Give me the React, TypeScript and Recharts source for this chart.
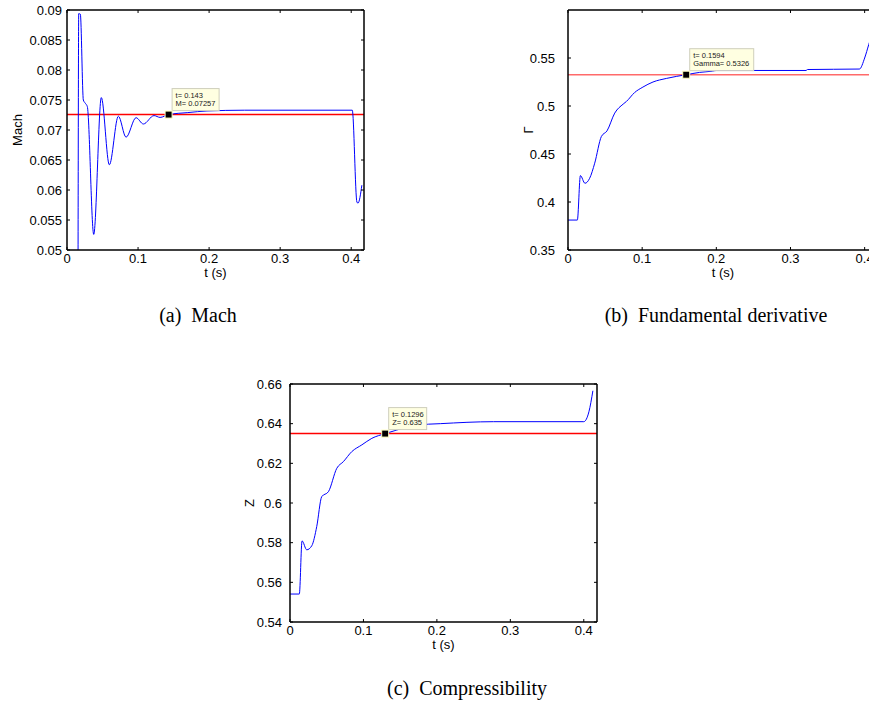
import { LineChart, Line, XAxis, YAxis, ReferenceLine, ReferenceDot } from "recharts";

// time axis shared by the three panels
const tTicks = [0, 0.1, 0.2, 0.3, 0.4];
const tDomain = [0, 0.418];

// (a) Mach
const machT = [0, 0.0145, 0.0165, 0.0188, 0.023, 0.0258, 0.0286, 0.0376, 0.0483, 0.0596, 0.0723, 0.0831, 0.0972, 0.1075, 0.1225, 0.131, 0.143, 0.17, 0.197, 0.25, 0.4015, 0.408, 0.4095, 0.415];
const machV = [0, 0, 0.0894, 0.0893, 0.075, 0.07445, 0.0739, 0.0526, 0.0754, 0.0642, 0.0723, 0.0688, 0.07205, 0.071, 0.0724, 0.0721, 0.07257, 0.0729, 0.07317, 0.0733, 0.0733, 0.058, 0.0578, 0.0608];
const machTicks = [0.05, 0.055, 0.06, 0.065, 0.07, 0.075, 0.08, 0.085, 0.09];

// (b) Fundamental derivative
const gammaT = [0, 0.0126, 0.0167, 0.0229, 0.0292, 0.036, 0.045, 0.0526, 0.063, 0.0744, 0.0787, 0.0899, 0.101, 0.1146, 0.1326, 0.1594, 0.1775, 0.1946, 0.2, 0.321, 0.323, 0.393, 0.4, 0.4055, 0.41, 0.415];
const gammaV = [0.3812, 0.3812, 0.4275, 0.4195, 0.4247, 0.4404, 0.4682, 0.4741, 0.4926, 0.502, 0.5047, 0.5141, 0.5197, 0.525, 0.5287, 0.5326, 0.535, 0.5363, 0.537, 0.537, 0.538, 0.5385, 0.55, 0.5639, 0.575, 0.588];
const gammaTicks = [0.35, 0.4, 0.45, 0.5, 0.55];

// (c) Compressibility
const zT = [0, 0.0127, 0.0164, 0.0228, 0.0296, 0.0364, 0.0432, 0.0523, 0.0637, 0.0728, 0.0841, 0.0978, 0.1114, 0.1296, 0.1455, 0.1728, 0.2046, 0.2773, 0.4, 0.407, 0.4124];
const zV = [0.5541, 0.5541, 0.5809, 0.5764, 0.5784, 0.5881, 0.6032, 0.6057, 0.6175, 0.6209, 0.6259, 0.6293, 0.6326, 0.635, 0.6368, 0.6393, 0.64, 0.641, 0.641, 0.646, 0.6566];
const zTicks = [0.54, 0.56, 0.58, 0.6, 0.62, 0.64, 0.66];

const rows = (ts: number[], vs: number[]) => ts.map((t, i) => ({ t, v: vs[i] }));

const TICK = { fontSize: 13, fill: "#000" };
const AXIS = { stroke: "#000", strokeWidth: 1.5 };
const blank = () => "";

function DataTip(props: any) {
  const { cx, cy, lines, boxW } = props;
  if (cx == null || cy == null) return null;
  return (
    <g>
      <rect x={cx + 3.5} y={cy - 26} width={boxW} height={22} fill="#ffffe1" stroke="#cfcfbc" strokeWidth={1} />
      <text x={cx + 7} y={cy - 17} fontSize={7.5} fill="#222">{lines[0]}</text>
      <text x={cx + 7} y={cy - 8.5} fontSize={7.5} fill="#222">{lines[1]}</text>
      <rect x={cx - 3.5} y={cy - 3.5} width={7} height={7} fill="#000" stroke="#ffffc0" strokeWidth={1} />
    </g>
  );
}

function Panel(props: any) {
  const { left, top, width, height, yWidth, mRight, mBottom, data, yDomain, yTicks, yLabel, yLabelOffset, tickMargin, refY, refColor, tip, tipW, tipLines } = props;
  return (
    <div style={{ position: "absolute", left, top }}>
      <LineChart width={width} height={height} data={data} margin={{ top: 9, right: mRight - 1, bottom: mBottom, left: 0 }}>
        <XAxis dataKey="t" type="number" domain={tDomain} ticks={tTicks} allowDataOverflow height={30}
          tick={TICK} tickSize={-3} tickMargin={7} axisLine={AXIS} tickLine={{ stroke: "#000" }}
          label={{ value: "t (s)", position: "insideBottom", offset: 3, style: { fontSize: 13, fill: "#000" } }} />
        <XAxis xAxisId="top" orientation="top" dataKey="t" type="number" domain={tDomain} ticks={tTicks} allowDataOverflow height={1}
          tickFormatter={blank} tickSize={-3} axisLine={AXIS} tickLine={{ stroke: "#000" }} />
        <YAxis type="number" domain={yDomain} ticks={yTicks} allowDataOverflow width={yWidth}
          tick={TICK} tickSize={-3} tickMargin={tickMargin} axisLine={AXIS} tickLine={{ stroke: "#000" }}
          label={{ value: yLabel, angle: -90, position: "insideLeft", offset: yLabelOffset, style: { textAnchor: "middle", fontSize: 13, fill: "#000" } }} />
        <YAxis yAxisId="right" orientation="right" type="number" domain={yDomain} ticks={yTicks} allowDataOverflow width={1}
          tickFormatter={blank} tickSize={-3} axisLine={AXIS} tickLine={{ stroke: "#000" }} />
        <ReferenceLine y={refY} stroke={refColor} strokeWidth={1.5} />
        <Line type="monotone" dataKey="v" stroke="#0000ff" strokeWidth={1} dot={false} isAnimationActive={false} />
        <ReferenceDot x={tip[0]} y={tip[1]} r={4} shape={(p: any) => <DataTip {...p} lines={tipLines} boxW={tipW} />} />
      </LineChart>
    </div>
  );
}

const caption = { position: "absolute" as const, transform: "translateX(-50%)", whiteSpace: "pre" as const, fontFamily: "'Liberation Serif', serif", fontSize: 20, color: "#000" };

export default function App() {
  return (
    <div style={{ position: "absolute", left: 0, top: 0, width: 869, height: 711, overflow: "hidden", background: "#fff", fontFamily: "'Liberation Sans', Arial, sans-serif" }}>
      <Panel left={0} top={0} width={380} height={290} yWidth={67} mRight={16} mBottom={10}
        data={rows(machT, machV)} yDomain={[0.05, 0.09]} yTicks={machTicks} yLabel="Mach" yLabelOffset={17} tickMargin={8}
        refY={0.07257} refColor="#ff0000" tip={[0.143, 0.07257]} tipW={47} tipLines={["t= 0.143", "M= 0.07257"]} />
      <Panel left={520} top={0} width={380} height={290} yWidth={48} mRight={22} mBottom={10}
        data={rows(gammaT, gammaV)} yDomain={[0.35, 0.6]} yTicks={gammaTicks} yLabel="Γ" yLabelOffset={8} tickMargin={16}
        refY={0.5326} refColor="#ff6a6a" tip={[0.1594, 0.5326]} tipW={64} tipLines={["t= 0.1594", "Gamma= 0.5326"]} />
      <Panel left={240} top={374} width={380} height={290} yWidth={50} mRight={23} mBottom={12}
        data={rows(zT, zV)} yDomain={[0.54, 0.66]} yTicks={zTicks} yLabel="Z" yLabelOffset={9} tickMargin={11}
        refY={0.635} refColor="#ff0000" tip={[0.1296, 0.635]} tipW={38} tipLines={["t= 0.1296", "Z= 0.635"]} />
      <div style={{ ...caption, left: 198, top: 304 }}>{"(a)  Mach"}</div>
      <div style={{ ...caption, left: 716, top: 304 }}>{"(b)  Fundamental derivative"}</div>
      <div style={{ ...caption, left: 467, top: 677 }}>{"(c)  Compressibility"}</div>
    </div>
  );
}
